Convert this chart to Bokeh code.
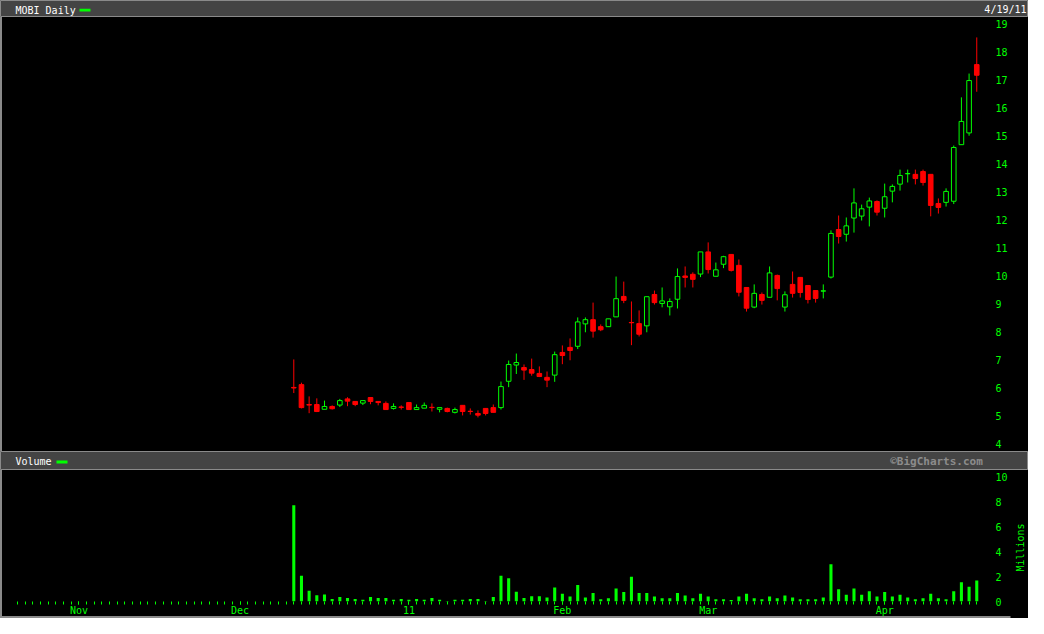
import math
import pandas as pd
from bokeh.plotting import figure
from bokeh.models import Range1d, FixedTicker, Label, BoxAnnotation, ColumnDataSource
from bokeh.layouts import column, row
from bokeh.embed import file_html
from bokeh.resources import INLINE

# ---------------- data ----------------
title_text = "MOBI Daily"
date_text = "4/19/11"
volume_title = "Volume"
watermark = "\u00a9BigCharts.com"
volume_unit = "Millions"

holidays = ["2010-11-25", "2010-12-24", "2011-01-17", "2011-02-21"]
calendar = pd.bdate_range("2010-10-20", "2011-04-19", freq="C", holidays=holidays)
first_trade = "2010-12-10"

month_starts = ["2010-11-01", "2010-12-01", "2011-01-03", "2011-02-01", "2011-03-01", "2011-04-01"]
month_labels = ["Nov", "Dec", "11", "Feb", "Mar", "Apr"]

price_ticks = list(range(4, 20))
volume_ticks = [0, 2, 4, 6, 8, 10]

opens = [6.02, 6.12, 5.41, 5.41, 5.24, 5.34, 5.39, 5.61, 5.52, 5.46, 5.66, 5.52, 5.45, 5.27, 5.32,
         5.48, 5.23, 5.28, 5.31, 5.24, 5.27, 5.13, 5.38, 5.17, 5.09, 5.27, 5.30, 5.30, 6.24, 6.82,
         6.73, 6.66, 6.52, 6.38, 6.46,
         7.27, 7.45, 7.49, 8.29, 8.44, 8.19, 8.19, 8.54, 9.27, 8.34, 8.30, 8.22, 9.34, 9.02, 8.90,
         9.17, 10.00, 10.06, 10.07,
         10.86, 9.99, 10.42, 10.77, 10.38, 9.59, 8.89, 9.34, 9.24, 10.02, 8.89, 9.70, 9.95, 9.66,
         9.48, 9.46, 9.96, 11.66, 11.49, 12.07, 12.14, 12.46, 12.66,
         12.42, 13.03, 13.28, 13.65, 13.63, 13.73, 13.63, 12.59, 12.63, 12.67, 14.69, 15.11, 17.55]
highs = [7.02, 6.19, 5.70, 5.63, 5.55, 5.38, 5.61, 5.67, 5.52, 5.55, 5.66, 5.52, 5.52, 5.45, 5.38,
         5.48, 5.41, 5.48, 5.45, 5.30, 5.30, 5.30, 5.38, 5.27, 5.20, 5.27, 5.41, 6.23, 6.98, 7.23,
         6.84, 7.05, 6.77, 6.59, 7.30,
         7.52, 7.77, 8.52, 8.52, 9.05, 8.27, 8.47, 9.98, 9.80, 9.09, 8.77, 9.26, 9.48, 9.59, 9.20,
         10.27, 10.34, 10.13, 10.86,
         11.20, 10.48, 10.72, 10.77, 10.59, 9.59, 9.70, 9.41, 10.34, 10.05, 9.45, 10.16, 9.95, 9.66,
         9.48, 9.70, 11.63, 12.16, 12.09, 13.13, 12.55, 12.80, 12.70,
         13.30, 13.27, 13.80, 13.80, 13.80, 13.80, 13.63, 12.77, 13.13, 14.66, 16.38, 17.23, 18.52]
lows = [5.82, 5.27, 5.10, 5.14, 5.24, 5.23, 5.32, 5.35, 5.35, 5.39, 5.42, 5.38, 5.23, 5.23, 5.23,
        5.23, 5.23, 5.28, 5.16, 5.13, 5.13, 5.09, 5.02, 5.05, 4.95, 5.02, 5.13, 5.23, 6.03, 6.50,
        6.29, 6.44, 6.39, 6.03, 6.22,
        6.85, 6.99, 7.39, 7.99, 7.80, 8.03, 8.19, 8.54, 9.03, 7.53, 7.84, 7.99, 8.98, 8.88, 8.59,
        8.84, 9.59, 9.59, 9.96,
        10.09, 9.99, 10.28, 10.16, 9.27, 8.73, 8.85, 8.98, 9.24, 9.13, 8.73, 9.23, 9.23, 9.02,
        9.05, 9.20, 9.91, 11.16, 11.23, 11.55, 11.98, 11.77, 12.16,
        12.09, 12.63, 13.05, 13.34, 13.27, 13.23, 12.13, 12.23, 12.48, 12.57, 14.69, 15.01, 16.58]
closes = [6.00, 5.30, 5.39, 5.16, 5.34, 5.26, 5.55, 5.53, 5.41, 5.55, 5.52, 5.48, 5.23, 5.34, 5.31,
          5.23, 5.30, 5.38, 5.30, 5.30, 5.16, 5.23, 5.16, 5.16, 5.03, 5.09, 5.13, 6.05, 6.84, 6.91,
          6.64, 6.53, 6.41, 6.28, 7.19,
          7.16, 7.34, 8.36, 8.44, 8.03, 8.08, 8.47, 9.19, 9.13, 8.33, 7.92, 9.26, 9.05, 9.11, 9.09,
          9.98, 9.95, 9.88, 10.86,
          10.23, 10.22, 10.69, 10.20, 9.42, 8.85, 9.38, 9.13, 10.11, 9.55, 9.33, 9.38, 9.41, 9.16,
          9.20, 9.47, 11.52, 11.41, 11.79, 12.61, 12.40, 12.68, 12.28,
          12.83, 13.20, 13.59, 13.66, 13.48, 13.34, 12.52, 12.45, 13.02, 14.59, 15.52, 16.98, 17.17]
volumes = [7.71, 2.07, 0.86, 0.50, 0.57, 0.21, 0.36, 0.29, 0.21, 0.14, 0.36, 0.29, 0.29, 0.14, 0.21,
           0.14, 0.21, 0.14, 0.29, 0.14, 0.04, 0.14, 0.14, 0.21, 0.21, 0.04, 0.36, 2.07, 1.86, 0.79,
           0.29, 0.43, 0.43, 0.33, 1.12,
           0.62, 0.40, 1.33, 0.33, 0.69, 0.19, 0.26, 1.05, 0.76, 1.98, 0.69, 0.69, 0.40, 0.26, 0.26,
           0.69, 0.48, 0.26, 0.62,
           0.40, 0.19, 0.19, 0.12, 0.40, 0.62, 0.26, 0.19, 0.40, 0.26, 0.48, 0.33, 0.19, 0.19,
           0.19, 0.33, 2.98, 0.98, 0.55, 1.05, 0.55, 0.83, 0.40,
           0.76, 0.40, 0.55, 0.33, 0.19, 0.26, 0.62, 0.26, 0.19, 0.83, 1.55, 1.19, 1.69]

# ---------------- styling ----------------
GREEN = "#00ff00"
RED = "#ff0000"
BAND = "#444444"
EDGE = "#8a8a8a"
FONT = "DejaVu Sans Mono"
W = 1028
W_UNIT = 18                     # strip holding the rotated "Millions" text
LEFT, RIGHT = 2, 40            # frame spans pixels 2 .. 988
H_HEAD, H_PRICE, H_SEP, H_VOL = 17, 434, 19, 148

cal_index = {d.strftime("%Y-%m-%d"): i for i, d in enumerate(calendar)}
trade_days = [d.strftime("%Y-%m-%d") for d in calendar if d >= pd.Timestamp(first_trade)]
xs = [cal_index[d] for d in trade_days]

up = [c >= o for o, c in zip(opens, closes)]
src = ColumnDataSource(dict(
    x=xs, o=opens, h=highs, l=lows, c=closes, vol=volumes,
    top=[max(o, c) for o, c in zip(opens, closes)],
    bottom=[min(o, c) for o, c in zip(opens, closes)],
    color=[GREEN if u else RED for u in up],
    fill=["#000000" if u else RED for u in up],
))

xr = Range1d(-1.959, 126.53)


def free_fig(width, height, bg, shadow=None):
    styles = {"background-color": bg}
    if shadow:
        styles["box-shadow"] = shadow
    f = figure(width=width, height=height, x_range=Range1d(0, width), y_range=Range1d(0, height),
               x_axis_location=None, y_axis_location=None, min_border=0,
               background_fill_color=bg, border_fill_color=bg, styles=styles,
               output_backend="svg", toolbar_location=None)
    try:
        f.frame_align = False
    except Exception:
        pass
    f.outline_line_color = None
    f.grid.visible = False
    return f


def band(height, label, swatch_x, text_y):
    f = free_fig(W, height, BAND)
    f.outline_line_color = EDGE
    f.outline_line_width = 1
    f.add_layout(Label(x=15, y=text_y, text=label, text_color="#ffffff",
                       text_font=FONT, text_font_size="10px", text_baseline="middle"))
    f.add_layout(BoxAnnotation(left=swatch_x, right=swatch_x + 11, bottom=text_y - 1.5,
                               top=text_y + 1.3, fill_color=GREEN, fill_alpha=1, line_color=None))
    return f


head = band(H_HEAD, title_text, 79, 7.4)
head.add_layout(Label(x=1026, y=7.6, text=date_text, text_color="#ffffff",
                      text_font=FONT, text_font_size="10px", text_baseline="middle",
                      text_align="right"))

sep = band(H_SEP, volume_title, 56, 8.6)
sep.add_layout(Label(x=936, y=8.6, text=watermark, text_color="#8c8c8c",
                     text_font=FONT, text_font_size="11px", text_font_style="bold",
                     text_baseline="middle", text_align="center"))


def panel(width, height, right, y_range, shadow, **kw):
    f = figure(width=width, height=height, x_range=xr, y_range=y_range,
               min_border_left=LEFT, min_border_right=right, min_border_top=0,
               background_fill_color="#000000", border_fill_color=None,
               styles={"background-color": "#000000", "box-shadow": shadow},
               output_backend="svg", toolbar_location=None, **kw)
    f.outline_line_color = None
    f.grid.visible = False
    return f


def style_right_axis(ax, ticks):
    ax.ticker = FixedTicker(ticks=ticks)
    ax.axis_line_color = None
    ax.major_tick_line_color = None
    ax.minor_tick_line_color = None
    ax.major_tick_out = 0
    ax.major_tick_in = 0
    ax.major_label_standoff = 7
    ax.major_label_text_color = GREEN
    ax.major_label_text_font = FONT
    ax.major_label_text_font_size = "10px"


# price panel
p = panel(W, H_PRICE, RIGHT, Range1d(3.732, 19.232), "inset 2px 0 0 " + EDGE,
          x_axis_location=None, y_axis_location="right", min_border_bottom=0)
p.segment(x0="x", y0="l", x1="x", y1="h", line_color="color", line_width=1, source=src)
p.vbar(x="x", width=0.6, top="top", bottom="bottom", fill_color="fill",
       line_color="color", line_width=1, source=src)
style_right_axis(p.yaxis[0], price_ticks)

# volume panel
v = panel(W - W_UNIT, H_VOL, RIGHT - W_UNIT, Range1d(0, 10.5), "inset 2px -2px 0 " + EDGE,
          x_axis_location="below", y_axis_location="right", min_border_bottom=14)
v.vbar(x="x", width=0.4, top="vol", bottom=0, fill_color=GREEN, line_color=None, source=src)
style_right_axis(v.yaxis[0], volume_ticks)

major_idx = [cal_index[d] for d in month_starts]
vx = v.xaxis[0]
vx.ticker = FixedTicker(ticks=major_idx, minor_ticks=list(range(len(calendar))))
vx.major_label_overrides = {i: lab for i, lab in zip(major_idx, month_labels)}
vx.axis_line_color = None
vx.major_tick_in = 0
vx.major_tick_out = 3
vx.minor_tick_in = 0
vx.minor_tick_out = 3
vx.major_tick_line_color = GREEN
vx.minor_tick_line_color = GREEN
vx.major_label_standoff = 0
vx.major_label_text_color = GREEN
vx.major_label_text_font = FONT
vx.major_label_text_font_size = "10px"

# "Millions" unit label, reading bottom to top
unit = free_fig(W_UNIT, H_VOL, "#000000", shadow="inset 0 -2px 0 " + EDGE)
unit.add_layout(Label(x=W_UNIT / 2 + 1, y=H_VOL - 77, text=volume_unit, angle=math.pi / 2,
                      text_color=GREEN, text_font=FONT, text_font_size="10px",
                      text_align="center", text_baseline="middle"))

layout = column(head, p, sep, row(v, unit, spacing=0), spacing=0)
open("out.html", "w").write(file_html(layout, INLINE))
